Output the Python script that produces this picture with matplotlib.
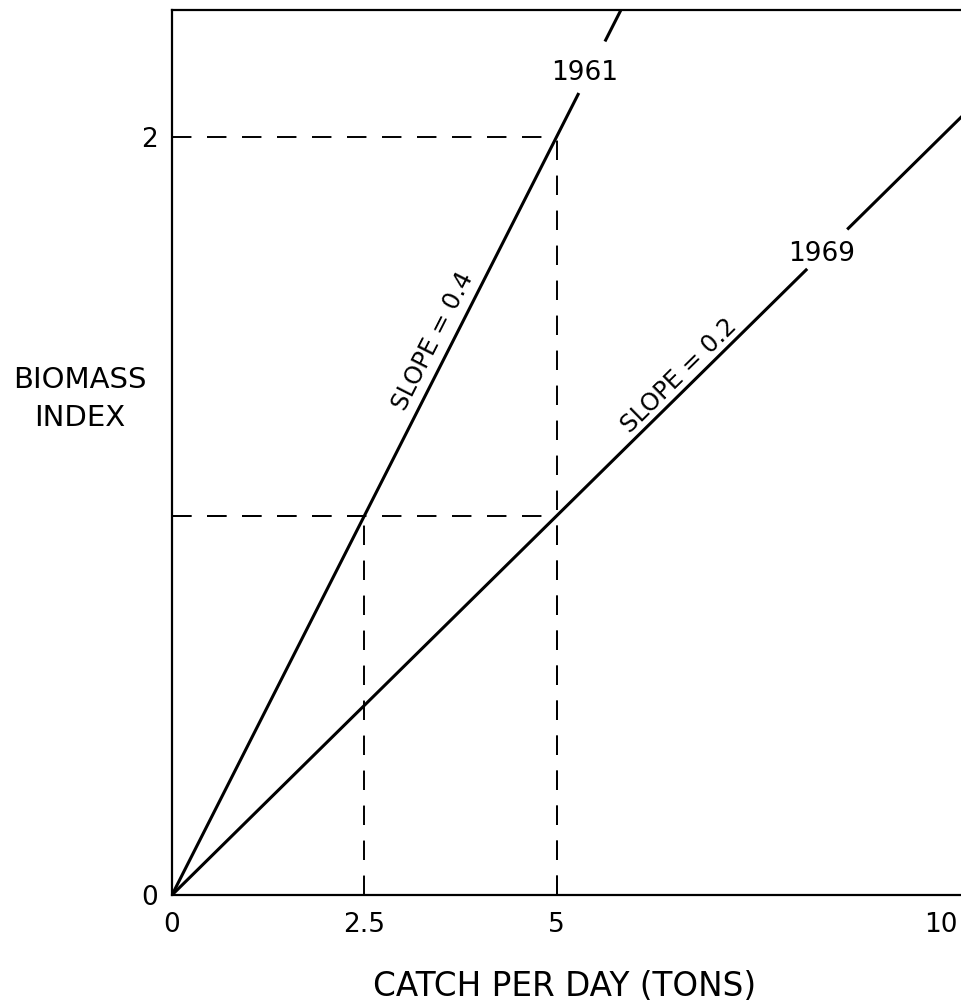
import numpy as np
import matplotlib.pyplot as plt

# two biomass-index lines: biomass = slope * catch
years = ["1961", "1969"]
slopes = [0.4, 0.2]
# x range where each line is broken for its year label
label_gaps = [(5.29, 5.63), (8.26, 8.78)]
year_label_pos = [(5.37, 2.17), (8.45, 1.69)]
slope_label_pos = [(3.4, 1.46), (6.6, 1.37)]

# reference points (catch, biomass)
ref_points = [(2.5, 1.0), (5.0, 2.0), (5.0, 1.0)]

xticks = [0, 2.5, 5, 10]
xticklabels = ["0", "2.5", "5", "10"]
yticks = [0, 2]
yticklabels = ["0", "2"]

fs = 19
fig = plt.figure(figsize=(9.61, 10.08), dpi=100)
ax = fig.add_axes([172 / 961, 1 - 895 / 1008, 1 - 172 / 961, (895 - 10) / 1008])
ax.set_xlim(0, 10.26)
ax.set_ylim(0, 2.335)

for s in ["left", "bottom", "top"]:
    ax.spines[s].set_linewidth(1.6)
ax.spines["right"].set_visible(False)

ax.set_xticks(xticks)
ax.set_xticklabels(xticklabels, fontsize=fs)
ax.set_yticks(yticks)
ax.set_yticklabels(yticklabels, fontsize=fs)
ax.tick_params(axis="both", length=0)
ax.tick_params(axis="x", pad=12)
ax.tick_params(axis="y", pad=10)

# dashed guides
dash = (0, (10, 8))
for px, py in ref_points:
    ax.plot([0, px], [py, py], color="black", lw=1.4, ls=dash, clip_on=False)
    ax.plot([px, px], [0, py], color="black", lw=1.4, ls=dash, clip_on=False)

# solid lines with gaps for year labels
for slope, (g0, g1), yr, (tx, ty), (sx, sy) in zip(slopes, label_gaps, years,
                                                     year_label_pos, slope_label_pos):
    x1 = np.array([0, g0])
    x2 = np.array([g1, 12])
    ax.plot(x1, slope * x1, color="black", lw=2.2, solid_capstyle="butt")
    ax.plot(x2, slope * x2, color="black", lw=2.2, solid_capstyle="butt")
    ax.text(tx, ty, yr, fontsize=fs, ha="center", va="center")
    p0 = ax.transData.transform((0, 0))
    p1 = ax.transData.transform((1, slope))
    ang = np.degrees(np.arctan2(p1[1] - p0[1], p1[0] - p0[0]))
    ax.text(sx, sy, "SLOPE = %s" % slope, fontsize=17.5, ha="center", va="center",
            rotation=ang, rotation_mode="anchor")

fig.text(80 / 961, 1 - 399 / 1008, "BIOMASS\nINDEX", fontsize=21,
         ha="center", va="center", linespacing=1.45)
fig.text(565 / 961, 1 - 987 / 1008, "CATCH PER DAY (TONS)", fontsize=23.5,
         ha="center", va="center")

fig.savefig("out.png", dpi=100)
